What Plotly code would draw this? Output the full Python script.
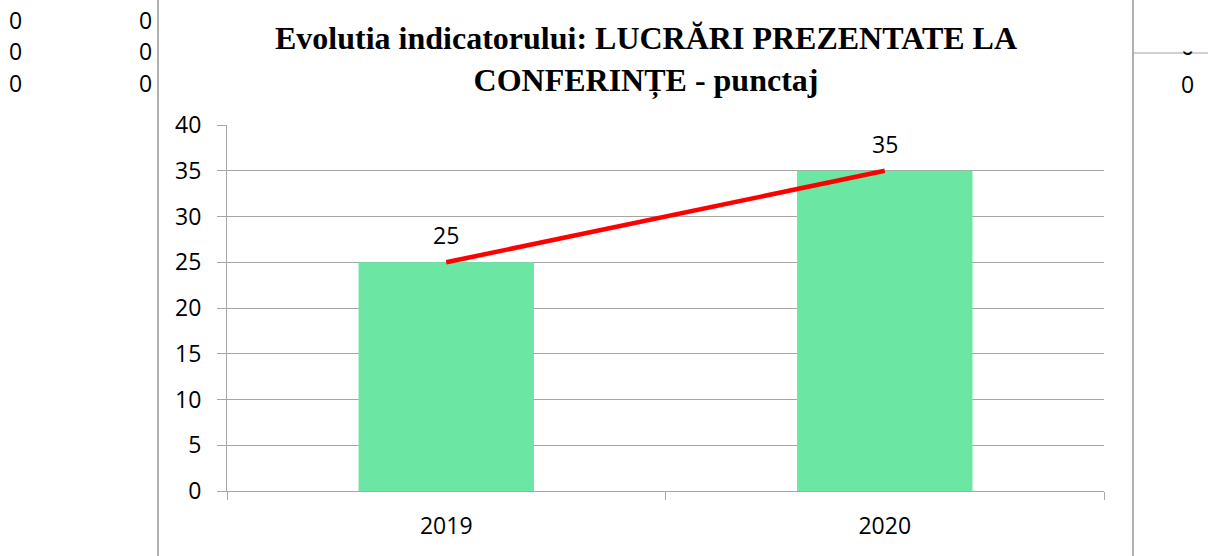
import plotly.graph_objects as go

years = ["2019", "2020"]
scores = [25, 35]
y_ticks = [0, 5, 10, 15, 20, 25, 30, 35, 40]
title_lines = ["Evolutia indicatorului: LUCRĂRI PREZENTATE LA", "CONFERINȚE - punctaj"]
stray_cells = ["0", "0", "0"]

W, H = 1208, 556
L, R, T, B = 227, 1104, 125, 491

def px(xp):
    return (xp - L) / (R - L)

def py(yp):
    return (B - yp) / (B - T)

NUMFONT = "Open Sans"
NUMSIZE = 23
GRID = "#A6A6A6"

fig = go.Figure()
fig.add_trace(go.Bar(x=years, y=scores, width=0.4, marker_color="#6BE6A3",
                     marker_line_width=0, showlegend=False, hoverinfo="skip"))
fig.add_trace(go.Scatter(x=years, y=scores, mode="lines",
                         line=dict(color="#FF0000", width=4.5),
                         showlegend=False, hoverinfo="skip"))

for i, v in enumerate(scores):
    fig.add_annotation(x=i, y=v, xref="x", yref="y", text=str(v), showarrow=False,
                       yshift=27, font=dict(family=NUMFONT, size=NUMSIZE, color="black"))

fig.add_annotation(xref="paper", yref="paper", x=px(646), y=py(59), xanchor="center",
                   yanchor="middle", showarrow=False, align="center",
                   text="<b>" + "<br>".join(title_lines) + "</b>",
                   font=dict(family="Liberation Serif", size=32, color="black"))

numfont = dict(family=NUMFONT, size=NUMSIZE, color="black")
for i, t in enumerate(stray_cells):
    yy = [20, 51, 83][i]
    fig.add_annotation(xref="paper", yref="paper", x=px(15), y=py(yy), text=t,
                       showarrow=False, xanchor="center", yanchor="middle", font=numfont)
    fig.add_annotation(xref="paper", yref="paper", x=px(145), y=py(yy), text=t,
                       showarrow=False, xanchor="center", yanchor="middle", font=numfont)
fig.add_annotation(xref="paper", yref="paper", x=px(1187), y=py(84), text=stray_cells[0],
                   showarrow=False, xanchor="center", yanchor="middle", font=numfont)
fig.add_annotation(xref="paper", yref="paper", x=px(1187), y=py(46), text=stray_cells[0],
                   showarrow=False, xanchor="center", yanchor="middle", font=numfont)
fig.add_annotation(xref="paper", yref="paper", x=px(1134), y=py(52), text="",
                   showarrow=False, xanchor="left", yanchor="bottom",
                   width=74, height=52, bgcolor="white", borderpad=0)

for xv in (158, 1133):
    fig.add_shape(type="line", xref="paper", yref="paper", x0=px(xv), x1=px(xv),
                  y0=py(0), y1=py(H), line=dict(color="#B0B0B0", width=2), layer="above")
fig.add_shape(type="line", xref="paper", yref="paper", x0=px(1133), x1=px(W),
              y0=py(53), y1=py(53), line=dict(color="#A0A0A0", width=1), layer="above")

fig.update_layout(
    width=W, height=H,
    margin=dict(l=L, r=W - R, t=T, b=H - B),
    paper_bgcolor="white", plot_bgcolor="white",
    font=dict(family=NUMFONT, size=NUMSIZE, color="black"),
)
fig.update_yaxes(range=[0, 40], tickvals=y_ticks, showgrid=True, gridcolor=GRID,
                 gridwidth=1, showline=True, linecolor=GRID, linewidth=1,
                 ticks="outside", ticklen=9, tickcolor=GRID, zeroline=False,
                 ticklabelstandoff=11, tickfont=numfont)
fig.update_xaxes(type="category", range=[-0.5, 1.5], showline=True, linecolor=GRID,
                 linewidth=1, ticks="outside", tickson="boundaries", ticklen=8,
                 tickcolor=GRID, showgrid=False, ticklabelstandoff=14, tickfont=numfont)

fig.write_html("out.html", config={"displayModeBar": False},
               post_script="document.body.style.margin='0px';")
